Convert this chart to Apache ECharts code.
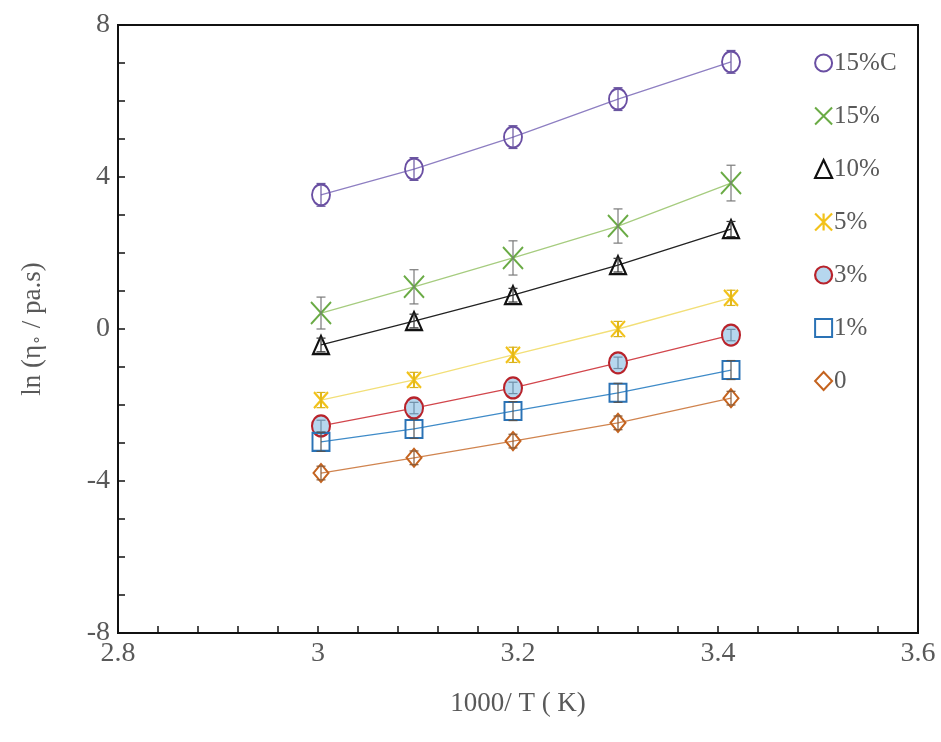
<!DOCTYPE html>
<html>
<head>
<meta charset="utf-8">
<script src="https://cdn.jsdelivr.net/npm/echarts@6/dist/echarts.min.js"></script>
<style>
  html, body { margin: 0; padding: 0; background: #fff; }
  #chart { width: 941px; height: 742px; }
</style>
</head>
<body>
<div id="chart"></div>
<script>
// Inverse temperature, 1000/T (K^-1), for T = 333, 323, 313, 303, 293 K
const invT = [3.003, 3.096, 3.195, 3.300, 3.413];

// ln(zero-shear viscosity) for each sample
const y15C = [3.53, 4.21, 5.05, 6.05, 7.03];
const y15  = [0.42, 1.11, 1.87, 2.71, 3.84];
const y10  = [-0.42, 0.21, 0.89, 1.68, 2.63];
const y5   = [-1.87, -1.34, -0.68, 0.00, 0.82];
const y3   = [-2.55, -2.08, -1.55, -0.89, -0.16];
const y1   = [-2.97, -2.63, -2.16, -1.68, -1.08];
const y0   = [-3.79, -3.39, -2.95, -2.47, -1.82];

// Error bar half-widths
const e15C = [0.30, 0.30, 0.30, 0.30, 0.30];
const e15  = [0.42, 0.45, 0.45, 0.45, 0.47];
const e10  = [0.18, 0.18, 0.18, 0.18, 0.20];
const e5   = [0.20, 0.20, 0.20, 0.20, 0.20];
const e3   = [0.15, 0.15, 0.15, 0.15, 0.15];
const e1   = [0.25, 0.25, 0.25, 0.25, 0.25];
const e0   = [0.18, 0.18, 0.18, 0.18, 0.18];

const names = ['15%C', '15%', '10%', '5%', '3%', '1%', '0'];

const xTicks = [2.8, 3.6, 0.2];
const yTicks = [-8, 8, 4];

const serif = '"Liberation Serif", "Times New Roman", serif';
const textGrey = '#595959';

const groups = [
  { name: names[0], y: y15C, e: e15C, line: '#8e7fc2', err: '#6a56a0',
    symbol: 'circle', size: [18, 21], fill: 'rgba(255,255,255,0)', stroke: '#6a4fa3', bw: 2 },
  { name: names[1], y: y15, e: e15, line: '#a6cc7f', err: '#7a7a7a',
    symbol: 'path://M0,0L10,10M10,0L0,10', size: [20, 22], fill: 'rgba(255,255,255,0)', stroke: '#6aab45', bw: 2 },
  { name: names[2], y: y10, e: e10, line: '#222222', err: '#333333',
    symbol: 'triangle', size: [16, 18], fill: 'rgba(255,255,255,0)', stroke: '#111111', bw: 2.2 },
  { name: names[3], y: y5, e: e5, line: '#f2df78', err: '#d9b21c',
    symbol: 'path://M0,0L10,10M10,0L0,10M5,0L5,10', size: [14, 16], fill: 'rgba(255,255,255,0)', stroke: '#f2c21b', bw: 2.2 },
  { name: names[4], y: y3, e: e3, line: '#d2464c', err: '#6f8fa8',
    symbol: 'circle', size: [18, 21], fill: '#b6d7ee', stroke: '#b8232b', bw: 2.2 },
  { name: names[5], y: y1, e: e1, line: '#3f8bc8', err: '#555555',
    symbol: 'rect', size: [17, 18], fill: 'rgba(255,255,255,0)', stroke: '#2a72b5', bw: 2 },
  { name: names[6], y: y0, e: e0, line: '#d0844f', err: '#8a5a35',
    symbol: 'diamond', size: [15, 18], fill: 'rgba(255,255,255,0)', stroke: '#c4631f', bw: 2 }
];

function pairs(xs, ys) { return xs.map((x, i) => [x, ys[i]]); }

const series = [];
groups.forEach(g => {
  // connecting line
  series.push({
    type: 'line', data: pairs(invT, g.y), showSymbol: false, symbol: 'none',
    lineStyle: { color: g.line, width: 1.3 }, z: 2, silent: true,
    legendHoverLink: false
  });
});
groups.forEach(g => {
  // markers
  series.push({
    name: g.name, type: 'scatter', data: pairs(invT, g.y),
    symbol: g.symbol, symbolSize: g.size,
    itemStyle: { color: g.fill, borderColor: g.stroke, borderWidth: g.bw, opacity: 1 },
    z: 3
  });
});
groups.forEach(g => {
  // error bars
  series.push({
    type: 'custom', z: 4, silent: true,
    data: invT.map((x, i) => [x, g.y[i], g.e[i]]),
    renderItem: function (params, api) {
      const x = api.value(0), y = api.value(1), e = api.value(2);
      const top = api.coord([x, y + e]);
      const bot = api.coord([x, y - e]);
      const cw = 4.5;
      const st = { stroke: g.err, lineWidth: 1.2 };
      return {
        type: 'group',
        children: [
          { type: 'line', shape: { x1: top[0], y1: top[1], x2: bot[0], y2: bot[1] }, style: st },
          { type: 'line', shape: { x1: top[0] - cw, y1: top[1], x2: top[0] + cw, y2: top[1] }, style: st },
          { type: 'line', shape: { x1: bot[0] - cw, y1: bot[1], x2: bot[0] + cw, y2: bot[1] }, style: st }
        ]
      };
    }
  });
});

const chart = echarts.init(document.getElementById('chart'), null, { renderer: 'canvas' });
chart.setOption({
  backgroundColor: '#ffffff',
  animation: false,
  grid: {
    left: 118, right: 23, top: 25, bottom: 109,
    show: true, borderColor: '#111', borderWidth: 2, backgroundColor: 'transparent'
  },
  legend: {
    orient: 'vertical',
    left: 809, top: 45,
    itemWidth: 17, itemHeight: 18,
    itemGap: 27,
    data: groups.map(g => ({
      name: g.name, icon: g.symbol,
      itemStyle: { color: g.fill, borderColor: g.stroke, borderWidth: g.bw }
    })),
    textStyle: { fontFamily: serif, fontSize: 25, color: textGrey, lineHeight: 26, padding: [0, 0, 0, -3] },
    selectedMode: false
  },
  xAxis: {
    type: 'value', min: xTicks[0], max: xTicks[1], interval: xTicks[2],
    name: '1000/ T ( K)', nameLocation: 'middle', nameGap: 57,
    nameTextStyle: { fontFamily: serif, fontSize: 27, color: textGrey },
    axisLine: { show: true, onZero: false, lineStyle: { color: '#111', width: 2 } },
    axisTick: { show: true, inside: true, length: 7, lineStyle: { color: '#111', width: 1.5 } },
    minorTick: { show: true, splitNumber: 5, length: 7, lineStyle: { color: '#111', width: 1.5 } },
    splitLine: { show: false },
    axisLabel: {
      fontFamily: serif, fontSize: 28, color: textGrey, margin: 7,
      formatter: v => String(Math.round(v * 10) / 10)
    }
  },
  yAxis: {
    type: 'value', min: yTicks[0], max: yTicks[1], interval: yTicks[2],
    name: 'ln (η{s|∘} / pa.s)', nameLocation: 'middle', nameGap: 72, nameRotate: 90,
    nameTextStyle: {
      fontFamily: serif, fontSize: 27, color: textGrey,
      rich: { s: { fontFamily: serif, fontSize: 16, color: textGrey, verticalAlign: 'bottom', padding: [10, 0, 0, 0] } }
    },
    axisLine: { show: true, onZero: false, lineStyle: { color: '#111', width: 2 } },
    axisTick: { show: true, inside: true, length: 7, lineStyle: { color: '#111', width: 1.5 } },
    minorTick: { show: true, splitNumber: 4, length: 7, lineStyle: { color: '#111', width: 1.5 } },
    splitLine: { show: false },
    axisLabel: { fontFamily: serif, fontSize: 28, color: textGrey, margin: 8 }
  },
  series: series
});
</script>
</body>
</html>
